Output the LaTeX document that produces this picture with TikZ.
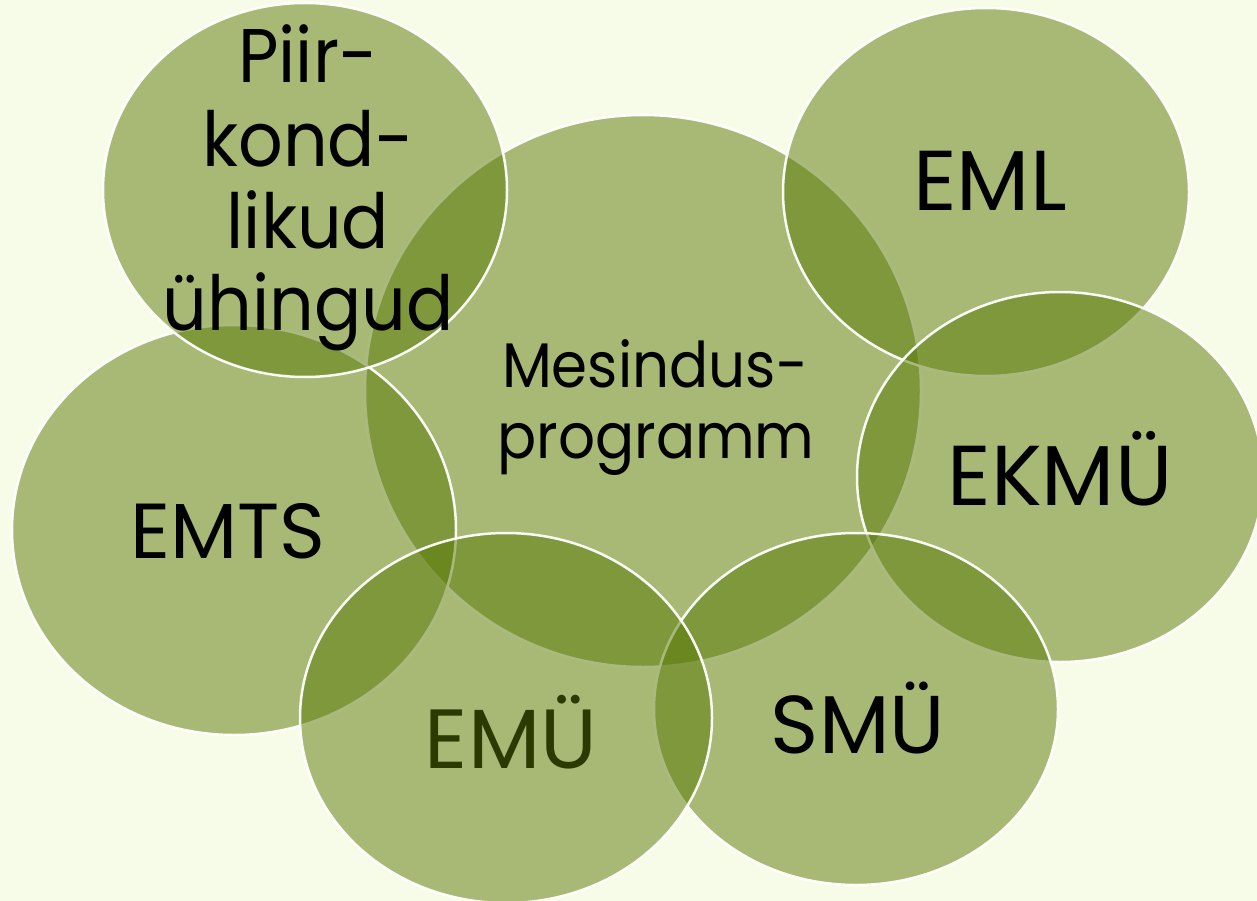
\documentclass[tikz,border=0pt]{standalone}
\usepackage{fontspec}
\setmainfont{Poppins}
\newfontfamily\narrowfont{Poppins}[FakeStretch=0.92]
\usetikzlibrary{shapes.geometric}
\definecolor{bgc}{RGB}{247,252,232}
\definecolor{vennc}{RGB}{89,120,4}
\definecolor{emutext}{RGB}{42,58,0}
\tikzset{
  venn/.style={ellipse, draw=white, line width=2.5pt, fill=vennc, fill opacity=0.5, draw opacity=0.95, inner sep=0pt},
  lbl/.style={anchor=base, inner sep=0pt, text=black, font=\fontsize{85}{85}\selectfont},
  plbl/.style={anchor=base, inner sep=0pt, text=black, font=\narrowfont\fontsize{76}{76}\selectfont},
  mlbl/.style={anchor=base, inner sep=0pt, text=black, font=\narrowfont\fontsize{63}{63}\selectfont}
}
\begin{document}
\begin{tikzpicture}[x=1pt,y=-1pt]
\fill[bgc] (0,0) rectangle (1257,901);
\useasboundingbox (0,0) rectangle (1257,901);
% ellipses
\node[venn, minimum width=556pt, minimum height=552pt] (mes) at (643,391) {};
\node[venn, minimum width=406pt, minimum height=368pt] (eml) at (986,192) {};
\node[venn, minimum width=406pt, minimum height=370pt] (ekmu) at (1060,477) {};
\node[venn, minimum width=404pt, minimum height=352pt] (smu) at (856,709) {};
\node[venn, minimum width=444pt, minimum height=410pt] (emts) at (234,530) {};
\node[venn, minimum width=404pt, minimum height=374pt] (piir) at (305,190) {};
\node[venn, minimum width=412pt, minimum height=370pt] (emu) at (506,718) {};
% labels
\node[plbl] (piir1) at (308,83) {Piir-};
\node[plbl] (piir2) at (308,167) {kond-};
\node[plbl] (piir3) at (308,248) {likud};
\node[plbl] (piir4) at (308,330) {ühingud};
\node[mlbl] (mes1) at (655,387) {Mesindus-};
\node[mlbl] (mes2) at (656,458) {programm};
\node[lbl] (emlt) at (990,211) {EML};
\node[lbl] (ekmut) at (1060,505) {EKMÜ};
\node[lbl, font=\fontsize{78}{78}\selectfont] (emtst) at (228,558) {EMTS};
\node[lbl, font=\fontsize{82}{82}\selectfont] (smut) at (858,753) {SMÜ};
\node[lbl, font=\fontsize{84}{84}\selectfont, text=emutext] (emut) at (511,768) {EMÜ};
\end{tikzpicture}
\end{document}
